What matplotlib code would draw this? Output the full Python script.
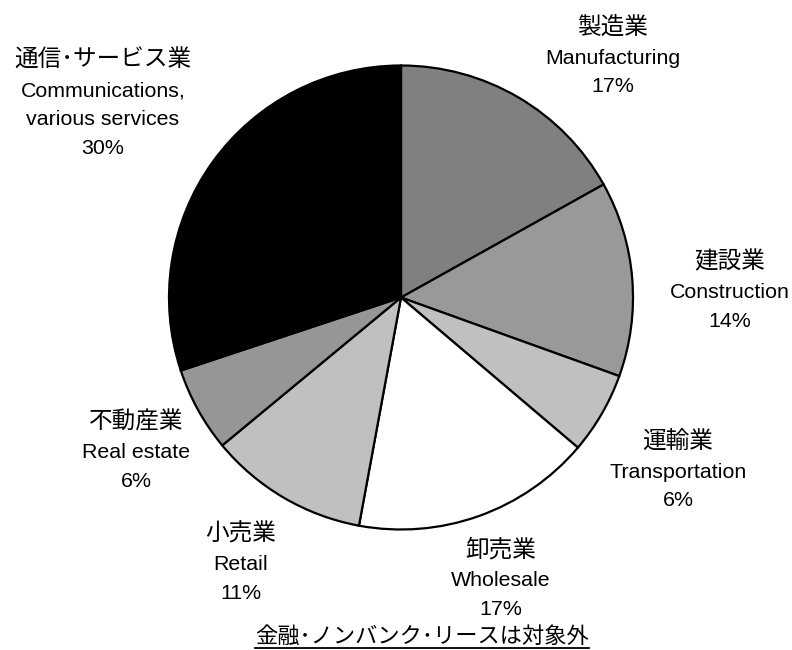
import matplotlib
matplotlib.use("Agg")
import matplotlib.pyplot as plt
from matplotlib import font_manager

# shares (labels show the rounded values)
names_jp = ["製造業", "建設業", "運輸業", "卸売業", "小売業", "不動産業", "通信･サービス業"]
names_en = ["Manufacturing", "Construction", "Transportation", "Wholesale", "Retail",
            "Real estate", "Communications,\nvarious services"]
shares = [16.9, 13.6, 5.7, 16.7, 11.1, 5.9, 30.1]
colors = ["#808080", "#999999", "#c0c0c0", "#ffffff", "#c0c0c0", "#969696", "#000000"]
note = "金融･ノンバンク･リースは対象外"

# label anchor (pixel centre of first line)
label_px = [(613, 27), (730, 262), (678, 441), (501, 550), (241, 534), (136, 422), (103, 60)]

W, H = 792, 650
CX, CY, R = 401, 297.5, 232

avail = {f.name for f in font_manager.fontManager.ttflist}
if "Liberation Sans Narrow" in avail:
    latin, latin_size = "Liberation Sans Narrow", 17.5
else:
    latin, latin_size = "Liberation Sans", 15.4
fam = [latin, "Noto Sans CJK JP", "DejaVu Sans"]
fam_jp = ["Noto Sans CJK JP", "DejaVu Sans"]

fig = plt.figure(figsize=(W / 100, H / 100), dpi=100)
ax = fig.add_axes([0, 0, 1, 1])

ax.pie(shares, colors=colors, startangle=90, counterclock=False, radius=1,
       wedgeprops=dict(edgecolor="black", linewidth=1.6))
ax.set_xlim(-CX / R, (W - CX) / R)
ax.set_ylim((CY - H) / R, CY / R)
ax.axis("off")


def to_data(px, py):
    return (px - CX) / R, (CY - py) / R


for jp, en, v, (px, py) in zip(names_jp, names_en, shares, label_px):
    x, y = to_data(px, py)
    ax.text(x, y, jp, ha="center", va="center", fontsize=17, family=fam_jp)
    rest = en.split("\n") + [f"{v:.0f}%"]
    for i, s in enumerate(rest):
        x, y = to_data(px, py + 31 + i * 28.5)
        ax.text(x, y, s, ha="center", va="center", fontsize=latin_size, family=fam)

nx, ny = to_data(422, 636)
t = ax.text(nx, ny, note, ha="center", va="center", fontsize=16, family=fam_jp)
fig.canvas.draw()
bb = t.get_window_extent().transformed(ax.transData.inverted())
ax.plot([bb.x0, bb.x1], [to_data(0, 648)[1]] * 2, color="black", lw=1.3)

fig.savefig("out.png", dpi=100)
